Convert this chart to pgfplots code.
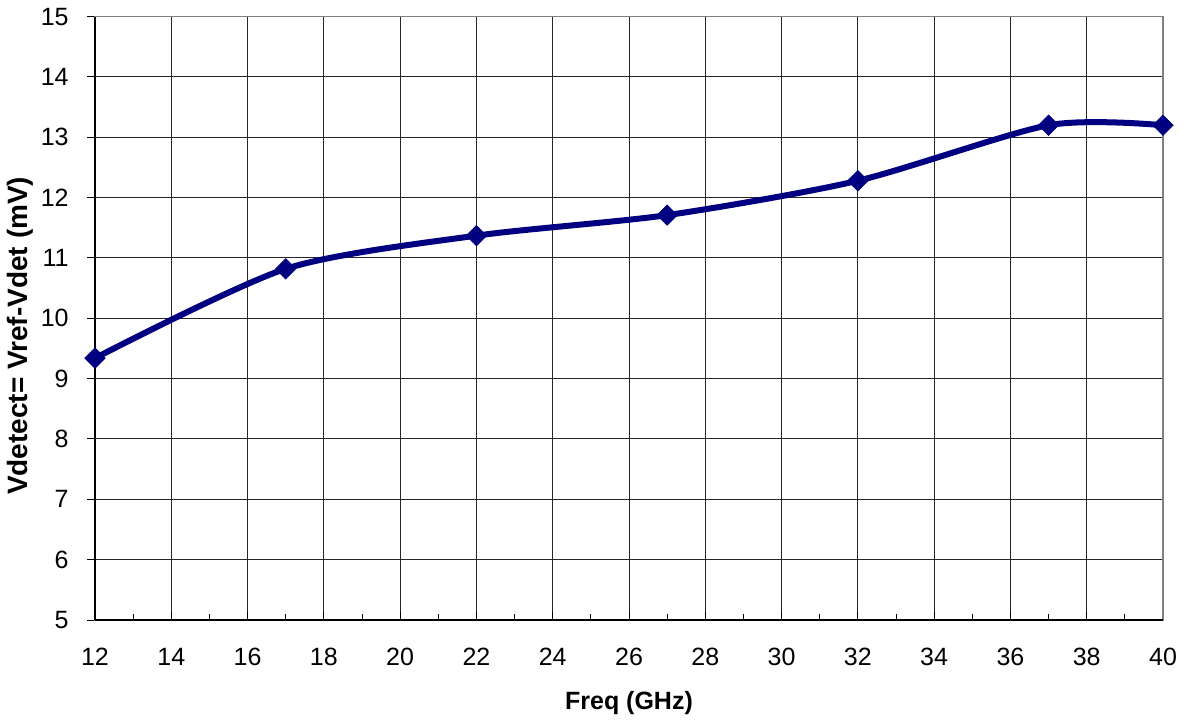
\documentclass[border=0pt]{standalone}
\usepackage{fontspec}
\setmainfont{Liberation Sans}
\usepackage{pgfplots}
\pgfplotsset{compat=1.18}
\definecolor{navyline}{RGB}{0,0,128}
\begin{document}
\begin{tikzpicture}
\path[use as bounding box] (0,0) rectangle (592pt,360pt);
\begin{axis}[
  at={(47.5pt,50pt)}, anchor=south west,
  scale only axis,
  width=534pt, height=301.7pt,
  xmin=12, xmax=40, ymin=5, ymax=15,
  xtick={12,14,...,40}, ytick={5,6,...,15},
  minor xtick={13,15,...,39},
  /pgf/number format/assume math mode=true,
  ticklabel style={font=\fontsize{12.5}{14}\selectfont},
  xticklabel style={anchor=north, inner sep=0pt, yshift=-14pt},
  yticklabel style={anchor=east, inner sep=0pt},
  yticklabel shift=9pt,
  grid=major,
  major grid style={black!85, line width=0.5pt},
  axis line style={gray, line width=0.6pt},
  tick style={black, line width=0.5pt},
  major tick length=4pt, minor tick length=3pt,
  xtick pos=bottom, ytick pos=left,
  ytick align=outside, xtick align=inside,
  xlabel={Freq (GHz)},
  ylabel={Vdetect= Vref-Vdet (mV)},
  xlabel style={font=\fontsize{12.5}{14}\selectfont\bfseries, at={(axis description cs:0.5,-0.1375)}, anchor=center},
  ylabel style={font=\fontsize{14}{16}\selectfont\bfseries, at={(axis description cs:-0.0702,0.471)}, anchor=center},
  clip=false,
]
\addplot[navyline, line width=3pt, smooth, tension=0.45,
  mark=diamond*, mark size=5pt, mark options={xscale=1.33, solid, fill=navyline, line width=0.5pt}]
  coordinates {
  (12,9.34) (17,10.82) (22,11.37) (27,11.71) (32,12.28) (37,13.20) (40,13.20)
  };
\draw[black, line width=0.7pt] (axis cs:12,5) -- (axis cs:40,5);
\draw[black, line width=0.7pt] (axis cs:12,5) -- (axis cs:12,15);
\end{axis}
\end{tikzpicture}
\end{document}
